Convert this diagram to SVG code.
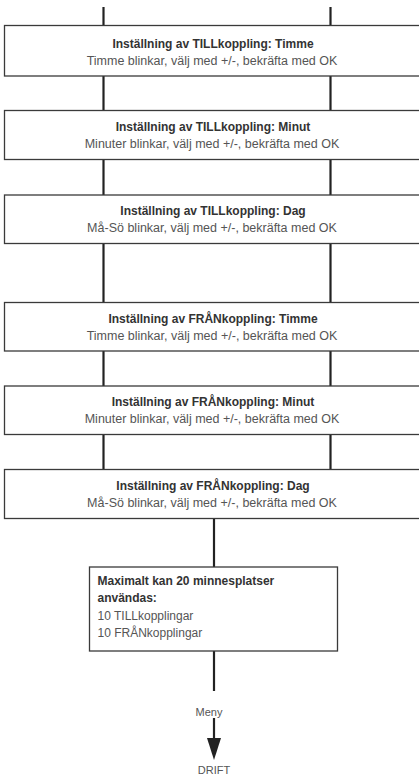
<svg xmlns="http://www.w3.org/2000/svg" width="419" height="776" viewBox="0 0 419 776">
<style>
.box{fill:#fff;stroke:#3a3a3a;stroke-width:1.3}
.con{stroke:#222;stroke-width:2.2;fill:none}
.t{font-family:"Liberation Sans",Arial,sans-serif;font-size:12px;font-weight:bold;fill:#333;text-anchor:middle}
.s{font-family:"Liberation Sans",Arial,sans-serif;font-size:12.5px;fill:#555;text-anchor:middle}
.tl{font-family:"Liberation Sans",Arial,sans-serif;font-size:12px;font-weight:bold;fill:#333}
.sl{font-family:"Liberation Sans",Arial,sans-serif;font-size:12px;fill:#555}
.m{font-family:"Liberation Sans",Arial,sans-serif;font-size:11px;fill:#555;text-anchor:middle}
</style>
<g id="connectors">
<line class="con" x1="103.5" y1="7" x2="103.5" y2="25.5"/>
<line class="con" x1="330.5" y1="7" x2="330.5" y2="25.5"/>
<line class="con" x1="103.5" y1="76" x2="103.5" y2="110.5"/>
<line class="con" x1="330.5" y1="76" x2="330.5" y2="110.5"/>
<line class="con" x1="103.5" y1="159.5" x2="103.5" y2="195"/>
<line class="con" x1="330.5" y1="159.5" x2="330.5" y2="195"/>
<line class="con" x1="103.5" y1="243.5" x2="103.5" y2="302.5"/>
<line class="con" x1="330.5" y1="243.5" x2="330.5" y2="302.5"/>
<line class="con" x1="103.5" y1="351" x2="103.5" y2="386"/>
<line class="con" x1="330.5" y1="351" x2="330.5" y2="386"/>
<line class="con" x1="103.5" y1="434.5" x2="103.5" y2="469.5"/>
<line class="con" x1="330.5" y1="434.5" x2="330.5" y2="469.5"/>
<line class="con" x1="214" y1="518.5" x2="214" y2="567"/>
<line class="con" x1="214" y1="651" x2="214" y2="691"/>
<line class="con" x1="214" y1="718" x2="214" y2="740"/>
<polygon points="207,738 221,738 214,760" fill="#222"/>
<text class="m" x="209" y="715.5">Meny</text>
<text class="m" x="214" y="774">DRIFT</text>
</g>
<g id="n1">
<rect class="box" x="4.5" y="25.5" width="420" height="50.5"/>
<text class="t" x="213" y="47.5">Inställning av TILLkoppling: Timme</text>
<text class="s" x="212" y="64.5">Timme blinkar, välj med +/-, bekräfta med OK</text>
</g>
<g id="n2">
<rect class="box" x="4.5" y="110.5" width="420" height="49"/>
<text class="t" x="213" y="130.8">Inställning av TILLkoppling: Minut</text>
<text class="s" x="212" y="147.8">Minuter blinkar, välj med +/-, bekräfta med OK</text>
</g>
<g id="n3">
<rect class="box" x="4.5" y="195" width="420" height="48.5"/>
<text class="t" x="213" y="214.5">Inställning av TILLkoppling: Dag</text>
<text class="s" x="212" y="231.5">Må-Sö blinkar, välj med +/-, bekräfta med OK</text>
</g>
<g id="n4">
<rect class="box" x="4.5" y="302.5" width="420" height="48.5"/>
<text class="t" x="213" y="322.5">Inställning av FRÅNkoppling: Timme</text>
<text class="s" x="212" y="339.5">Timme blinkar, välj med +/-, bekräfta med OK</text>
</g>
<g id="n5">
<rect class="box" x="4.5" y="386" width="420" height="48.5"/>
<text class="t" x="213" y="406">Inställning av FRÅNkoppling: Minut</text>
<text class="s" x="212" y="423">Minuter blinkar, välj med +/-, bekräfta med OK</text>
</g>
<g id="n6">
<rect class="box" x="4.5" y="469.5" width="420" height="49"/>
<text class="t" x="213" y="489.8">Inställning av FRÅNkoppling: Dag</text>
<text class="s" x="212" y="506.8">Må-Sö blinkar, välj med +/-, bekräfta med OK</text>
</g>
<g id="n7">
<rect class="box" x="89.5" y="567" width="248" height="84"/>
<text class="tl" x="97.5" y="585">Maximalt kan 20 minnesplatser</text>
<text class="tl" x="97.5" y="602">användas:</text>
<text class="sl" x="97.5" y="619.5">10 TILLkopplingar</text>
<text class="sl" x="97.5" y="637">10 FRÅNkopplingar</text>
</g>
</svg>
